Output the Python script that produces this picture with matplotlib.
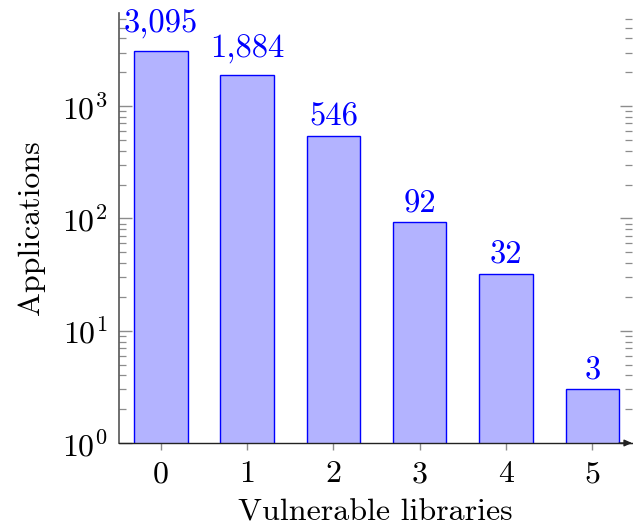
import numpy as np
import matplotlib
matplotlib.use("Agg")
import matplotlib.pyplot as plt
from matplotlib.ticker import FixedLocator, LogLocator, NullFormatter

plt.rcParams['font.family'] = ['cmr10', 'DejaVu Serif']
plt.rcParams['mathtext.fontset'] = 'cm'
plt.rcParams['mathtext.default'] = 'rm'
plt.rcParams['axes.unicode_minus'] = False

vulnerable_libs = [0, 1, 2, 3, 4, 5]
applications = [3095, 1884, 546, 92, 32, 3]
value_labels = ["3,095", "1,884", "546", "92", "32", "3"]
ytick_values = [1, 10, 100, 1000]
ytick_labels = [r'$10^{0}$', r'$10^{1}$', r'$10^{2}$', r'$10^{3}$']

fig = plt.figure(figsize=(6.33, 5.25), dpi=100)
ax = fig.add_axes([118.5 / 633, 82 / 525, (632 - 118.5) / 633, 430 / 525])

bar_blue = '#0000ff'
ax.set_yscale('log')
ax.bar(vulnerable_libs, applications, width=0.62,
       color='#b3b3ff', edgecolor=bar_blue, linewidth=1.0, zorder=2)
ax.set_ylim(1, 10 ** 3.829)
ax.set_xlim(-0.49, 5.46)

# value labels: comma labels sit higher because of the comma's depth
for x, v, lab in zip(vulnerable_libs, applications, value_labels):
    off = 13.0 if ',' in lab else 7.5
    ax.annotate(lab, xy=(x, v), xytext=(0, off), textcoords='offset points',
                ha='center', va='baseline', color=bar_blue, fontsize=23.5,
                annotation_clip=False)

ax.yaxis.set_major_locator(FixedLocator(ytick_values))
ax.set_yticklabels(ytick_labels)
ax.yaxis.set_minor_locator(LogLocator(base=10, subs=np.arange(2, 10), numticks=20))
ax.yaxis.set_minor_formatter(NullFormatter())
ax.set_xticks(vulnerable_libs)
ax.set_xticklabels([str(v) for v in vulnerable_libs])

tick_grey = '#8c8c8c'
ax.tick_params(axis='y', which='major', direction='in', length=9, width=1.0,
               color=tick_grey, left=True, right=True, labelsize=23, pad=8)
ax.tick_params(axis='y', which='minor', direction='in', length=5, width=0.9,
               color=tick_grey, left=True, right=True)
ax.tick_params(axis='x', which='major', direction='out', length=5, width=1.0,
               color=tick_grey, labelsize=23, pad=8)
ax.tick_params(axis='x', which='minor', bottom=False)

ax.spines['top'].set_visible(False)
ax.spines['right'].set_visible(False)
ax.spines['left'].set_color('#555555')
ax.spines['left'].set_linewidth(1.2)
ax.spines['bottom'].set_color('#222222')
ax.spines['bottom'].set_linewidth(1.0)
ax.spines['bottom'].set_zorder(3)

# arrow head at the end of the x axis
ax.annotate('', xy=(1.0, 0.0), xytext=(0.975, 0.0), xycoords='axes fraction',
            textcoords='axes fraction',
            arrowprops=dict(arrowstyle='-|>,head_length=0.45,head_width=0.2',
                            color='#222222', lw=1.0, shrinkA=0, shrinkB=0),
            annotation_clip=False, zorder=4)

ax.set_xlabel('Vulnerable libraries', fontsize=23, labelpad=7.5)
ax.set_ylabel('Applications', fontsize=23, labelpad=12)

fig.savefig('out.png', dpi=100)
